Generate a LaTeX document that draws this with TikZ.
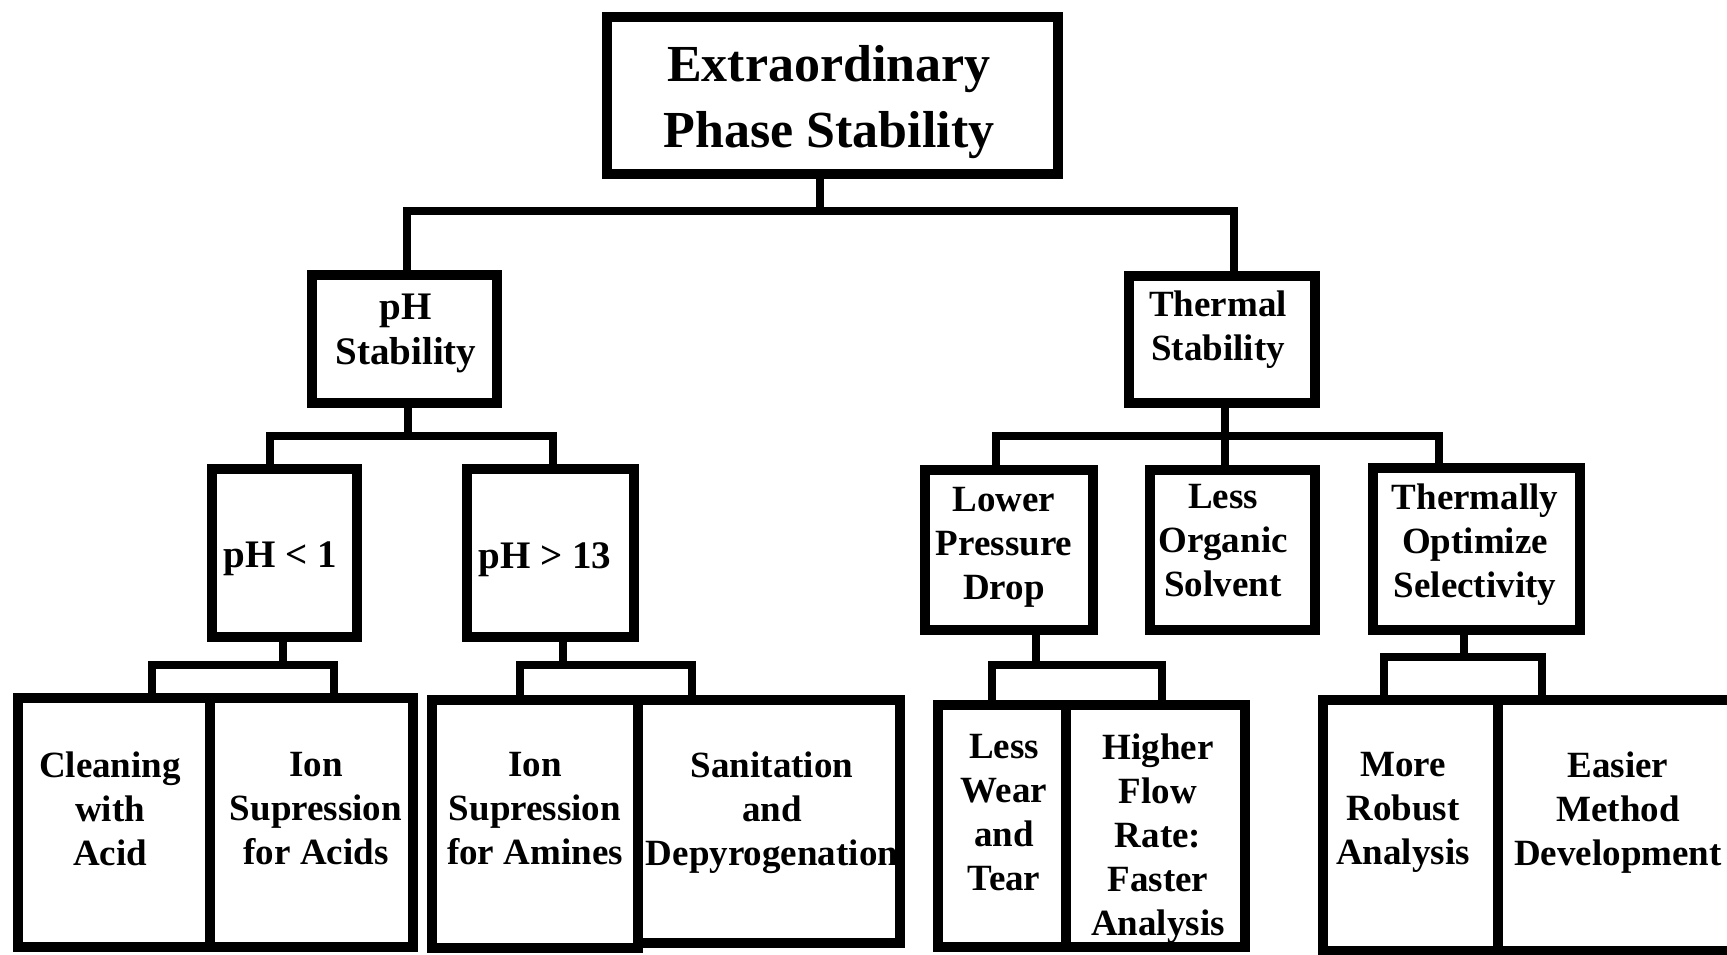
\documentclass[tikz,border=0pt]{standalone}
\usepackage{fontspec}
\setmainfont{Liberation Serif}
\usepackage{tikz}

\tikzset{
  box/.style={draw, line width=10pt, inner sep=0pt, outer sep=0pt},
  link/.style={line width=8pt},
  txt/.style={anchor=north, inner sep=0pt, align=center,
    font=\bfseries\fontsize{37}{44}\selectfont},
  bigtxt/.style={txt, font=\bfseries\fontsize{39}{45}\selectfont},
}

\begin{document}
\begin{tikzpicture}[x=1pt,y=-1pt]
	\useasboundingbox (0,0) rectangle (1727,954);
	\clip (0,0) rectangle (1727,954);

	\node[box, minimum width=451pt, minimum height=157pt] (top) at (832,95.5) {};
	\node[box, minimum width=185pt, minimum height=128pt] (ph) at (404,339) {};
	\node[box, minimum width=186pt, minimum height=127pt] (th) at (1222,339) {};

	\node[box, minimum width=145pt, minimum height=168pt] (phlo) at (284.5,553) {};
	\node[box, minimum width=167pt, minimum height=168pt] (phhi) at (550.5,553) {};
	\node[box, minimum width=168pt, minimum height=160pt] (lpd) at (1009,550) {};
	\node[box, minimum width=165pt, minimum height=160pt] (los) at (1232.5,550) {};
	\node[box, minimum width=207pt, minimum height=162pt] (tos) at (1476.5,549) {};

	\node[box, minimum width=192pt, minimum height=249pt] (clean) at (114,822.5) {};
	\node[box, minimum width=203pt, minimum height=249pt] (ionacid) at (311.5,822.5) {};
	\node[box, minimum width=206pt, minimum height=248pt] (ionamine) at (535,824) {};
	\node[box, minimum width=262pt, minimum height=243pt] (sanit) at (769,821.5) {};
	\node[box, minimum width=128.5pt, minimum height=242pt] (wear) at (1001.75,826) {};
	\node[box, minimum width=179pt, minimum height=242pt] (flow) at (1155.5,826) {};
	\node[box, minimum width=175pt, minimum height=251pt] (robust) at (1410.5,825.5) {};
	\node[box, minimum width=242pt, minimum height=251pt] (easier) at (1619,825.5) {};

	\node[txt, font=\bfseries\fontsize{52}{66}\selectfont] (top-txt) at (829,45) {Extraordinary\\Phase Stability};
	\node[bigtxt] (ph-txt) at (406,294) {pH\\Stability};
	\node[txt] (th-txt) at (1218,291) {Thermal\\Stability};
	\node[bigtxt] (phlo-txt) at (280,542) {pH < 1};
	\node[bigtxt] (phhi-txt) at (545,542) {pH > 13};
	\node[txt] (lpd-txt) at (1004,487) {Lower\\Pressure\\Drop};
	\node[txt] (los-txt) at (1223,484) {Less\\Organic\\Solvent};
	\node[txt] (tos-txt) at (1475,484) {Thermally\\Optimize\\Selectivity};
	\node[txt] (clean-txt) at (110,752) {Cleaning\\with\\Acid};
	\node[txt] (ionacid-txt) at (316,752) {Ion\\Supression\\for Acids};
	\node[txt] (ionamine-txt) at (535,752) {Ion\\Supression\\for Amines};
	\node[txt] (sanit-txt) at (772,752) {Sanitation\\and\\Depyrogenation};
	\node[txt] (wear-txt) at (1004,734) {Less\\Wear\\and\\Tear};
	\node[txt] (flow-txt) at (1158,734) {Higher\\Flow\\Rate:\\Faster\\Analysis};
	\node[txt] (robust-txt) at (1403,752) {More\\Robust\\Analysis};
	\node[txt] (easier-txt) at (1618,752) {Easier\\Method\\Development};

	\coordinate (j1) at (820,211);
	\coordinate (j2) at (407.5,436);
	\coordinate (j3) at (1224.5,436);
	\coordinate (j4) at (282.5,664.5);
	\coordinate (j5) at (563,664.5);
	\coordinate (j6) at (1036,665);
	\coordinate (j7) at (1464,657);

	\draw[link] (top.south -| j1) -- (j1);
	\draw[link] ([xshift=3pt]ph.north) |- (j1) -| ([xshift=12pt]th.north);

	\draw[link] (ph.south -| j2) -- (j2);
	\draw[link] ([xshift=-14.5pt]phlo.north) |- (j2) -| ([xshift=2.5pt]phhi.north);
	\draw[link] (th.south -| j3) -- (los.north -| j3);
	\draw[link] ([xshift=-13pt]lpd.north) |- (j3) -| ([xshift=-38pt]tos.north);

	\draw[link] (phlo.south -| j4) -- (j4);
	\draw[link] ([xshift=37.5pt]clean.north) |- (j4) -| ([xshift=22pt]ionacid.north);
	\draw[link] (phhi.south -| j5) -- (j5);
	\draw[link] ([xshift=-15pt]ionamine.north) |- (j5) -| ([xshift=-77pt]sanit.north);
	\draw[link] (lpd.south -| j6) -- (j6);
	\draw[link] ([xshift=-9.75pt]wear.north) |- (j6) -| ([xshift=6.5pt]flow.north);
	\draw[link] (tos.south -| j7) -- (j7);
	\draw[link] ([xshift=-27pt]robust.north) |- (j7) -| ([xshift=-77.5pt]easier.north);
\end{tikzpicture}
\end{document}
